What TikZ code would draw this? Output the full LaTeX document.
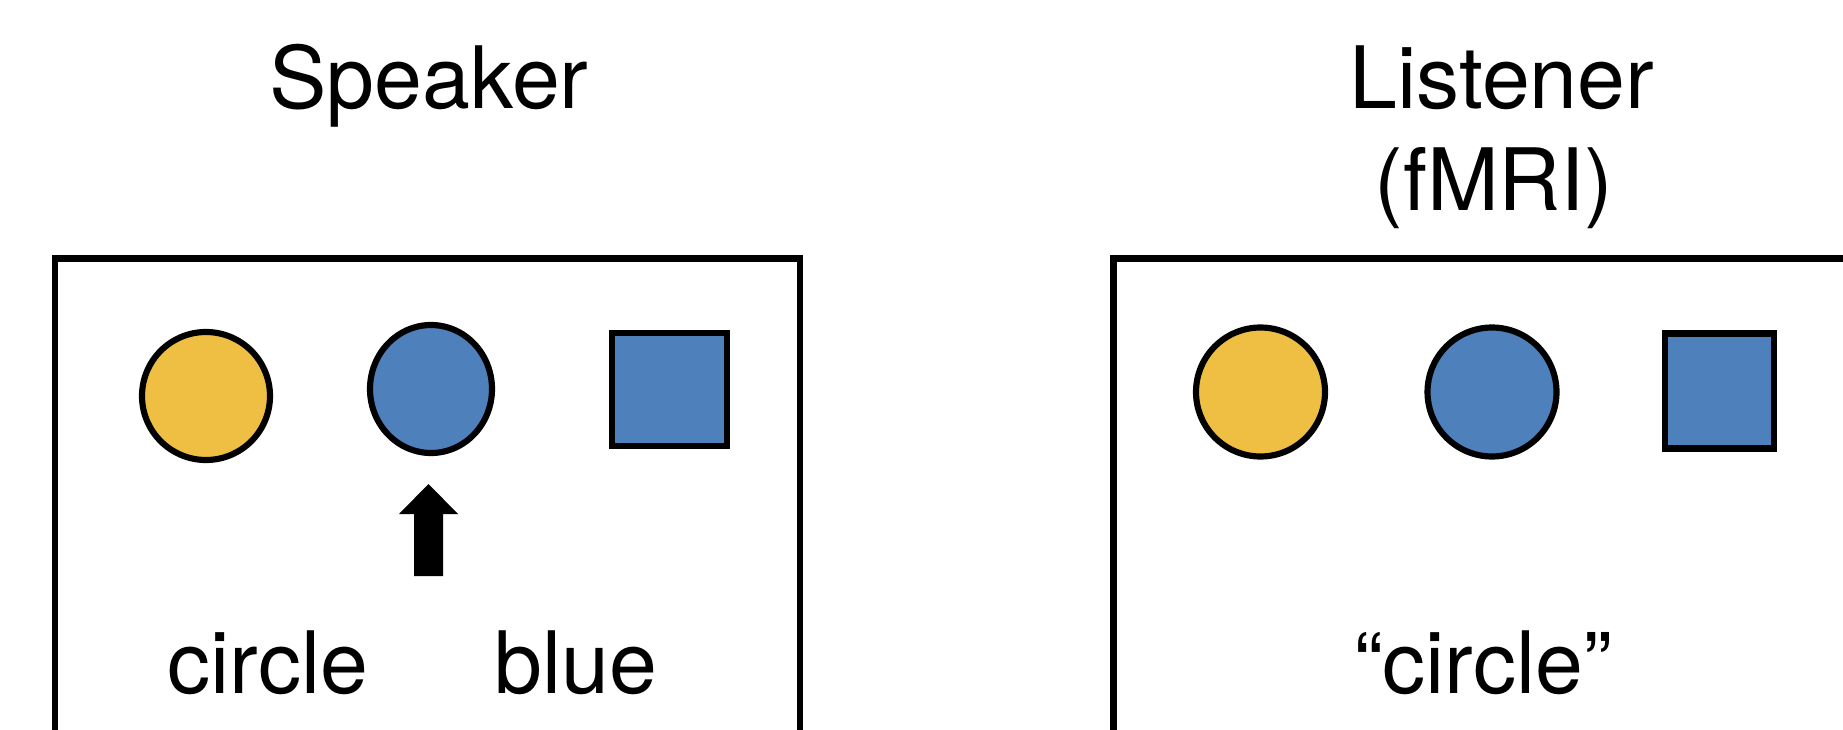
\documentclass[tikz,border=0pt]{standalone}
\usepackage{fontspec}
\setmainfont{TeX Gyre Heros}
\usepackage{xcolor}
\usetikzlibrary{shapes.geometric}

\definecolor{shapeyellow}{RGB}{238,191,66}
\definecolor{shapeblue}{RGB}{78,128,187}

\begin{document}
\begin{tikzpicture}[x=0.1mm,y=-0.1mm,line width=1.75pt,
	blob/.style={ellipse,draw,inner sep=0pt,line width=1.75pt},
	tile/.style={rectangle,draw,inner sep=0pt,line width=1.75pt,fill=shapeblue},
	word/.style={font=\fontsize{24.5}{30}\selectfont,anchor=base,inner sep=0pt}]
			\clip (0,0) rectangle (1843,730);
			
			% panels
			\coordinate (SL) at (55,760);
			\coordinate (ST) at (800,258.5);
			\coordinate (SR) at (800,760);
			\draw (SL) |- (ST) -- (SR);
			\coordinate (LL) at (1113.5,760);
			\coordinate (LT) at (1860,258.5);
			\draw (LL) |- (LT);
			
			% titles
			\node[word] (speaker) at (429,109) {Speaker};
			\node[word] (listener) at (1502,109) {Listener};
			\node[word] (fmri) at (1494,211) {(fMRI)};
			
			% speaker objects
			\node[blob,fill=shapeyellow,minimum width=12.8mm,minimum height=12.8mm] (sy) at (206,396) {};
			\node[blob,fill=shapeblue,minimum width=12.2mm,minimum height=12.8mm] (sb) at (431,389) {};
			\node[tile,minimum width=11.5mm,minimum height=11.3mm] (sq) at (669.5,389.5) {};
			
			% pointer
			\coordinate (tip) at (428.5,484);
			\fill (tip) -- (458,514) -- (443,514) -- (443,576) -- (414,576) -- (414,514) -- (399,514) -- cycle;
			
			\node[word] (circ) at (268,693) {circle};
			\node[word] (blue) at (576,693) {blue};
			
			% listener objects
			\node[blob,fill=shapeyellow,minimum width=12.9mm,minimum height=12.9mm] (ly) at (1260.5,392) {};
			\node[blob,fill=shapeblue,minimum width=12.9mm,minimum height=12.9mm] (lb) at (1492,392) {};
			\node[tile,minimum width=10.9mm,minimum height=11.5mm] (lq) at (1719.5,391) {};
			
			\node[word] (heard) at (1483,693) {“circle”};
\end{tikzpicture}
\end{document}
